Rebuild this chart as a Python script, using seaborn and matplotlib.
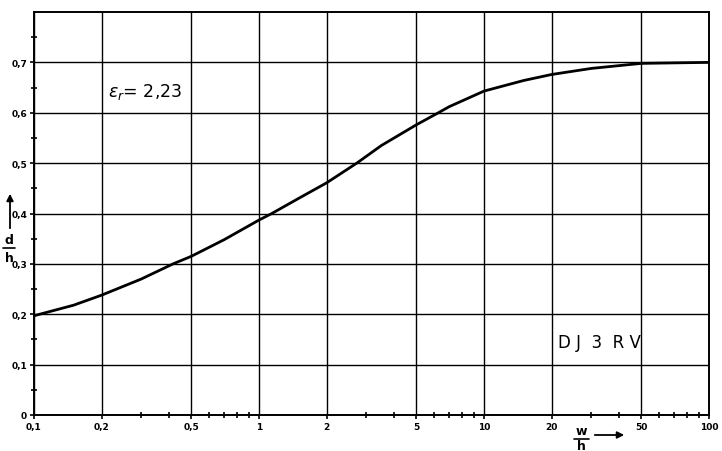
import numpy as np
import pandas as pd
import matplotlib
matplotlib.use("Agg")
import matplotlib.pyplot as plt
import seaborn as sns
from matplotlib.ticker import FixedLocator, NullFormatter

# Data
w_h = [0.1, 0.15, 0.2, 0.3, 0.415, 0.5, 0.7, 1.0, 1.14, 1.5, 2.0, 2.72, 3.5, 5.0,
       6.27, 7.0, 10.0, 15.0, 20.0, 30.0, 50.0, 70.0, 100.0]
d_h = [0.197, 0.218, 0.238, 0.270, 0.300, 0.315, 0.348, 0.387, 0.400, 0.430, 0.461,
       0.500, 0.535, 0.576, 0.600, 0.612, 0.643, 0.664, 0.676, 0.688, 0.698, 0.699, 0.700]

x_major = [0.1, 0.2, 0.5, 1, 2, 5, 10, 20, 50, 100]
x_major_labels = ["0,1", "0,2", "0,5", "1", "2", "5", "10", "20", "50", "100"]
x_minor = [0.3, 0.4, 0.6, 0.7, 0.8, 0.9, 3, 4, 6, 7, 8, 9, 30, 40, 60, 70, 80, 90]
y_major = [0, 0.1, 0.2, 0.3, 0.4, 0.5, 0.6, 0.7]
y_major_labels = ["0", "0,1", "0,2", "0,3", "0,4", "0,5", "0,6", "0,7"]
y_minor = [0.05, 0.15, 0.25, 0.35, 0.45, 0.55, 0.65, 0.75]

df = pd.DataFrame({"w/h": w_h, "d/h": d_h})

sns.set_style("white")
plt.rcParams['font.family'] = ['DejaVu Sans']
plt.rcParams['text.color'] = 'black'
plt.rcParams['xtick.color'] = 'black'
plt.rcParams['ytick.color'] = 'black'

fig = plt.figure(figsize=(7.22, 4.52), dpi=100)
ax = fig.add_axes([34/722, 36/452, 675/722, 403/452])

sns.lineplot(data=df, x="w/h", y="d/h", ax=ax, color="black", linewidth=2.0)

ax.set_xscale("log")
ax.set_xlim(0.1, 100)
ax.set_ylim(0, 0.8)

ax.xaxis.set_major_locator(FixedLocator(x_major))
ax.set_xticklabels(x_major_labels)
ax.xaxis.set_minor_locator(FixedLocator(x_minor))
ax.xaxis.set_minor_formatter(NullFormatter())
ax.set_yticks(y_major)
ax.set_yticklabels(y_major_labels)
ax.yaxis.set_minor_locator(FixedLocator(y_minor))

ax.grid(True, which="major", color="black", linewidth=1.0)
for s in ax.spines.values():
    s.set_color("black")
    s.set_linewidth(1.4)

ax.tick_params(axis="both", which="both", bottom=True, left=True, top=False, right=False)
ax.tick_params(axis="both", which="major", direction="out", length=3, width=1.2,
               labelsize=6.5, color="black", labelcolor="black", pad=2)
ax.tick_params(axis="both", which="minor", direction="inout", length=5, width=1.2, color="black")
for lab in ax.get_xticklabels() + ax.get_yticklabels():
    lab.set_fontweight("bold")

ax.set_xlabel("")
ax.set_ylabel("")

# Annotations
fig.text(108/722, 1 - 92/452, r"$\varepsilon_r$= 2,23", fontsize=12.5, va="center", ha="left", color="black")
fig.text(558/722, 1 - 343/452, "D J  3  R V", fontsize=12, va="center", ha="left", color="black")

# y-axis label d/h with arrow
fig.text(9/722, 1 - 240/452, "d", fontsize=9, fontweight="bold", ha="center", va="center")
fig.text(9/722, 1 - 258/452, "h", fontsize=9, fontweight="bold", ha="center", va="center")
fig.add_artist(plt.Line2D([3/722, 15/722], [1 - 249/452, 1 - 249/452], color="black", linewidth=1.2))
fig.add_artist(matplotlib.patches.FancyArrowPatch((10/722, 1 - 232/452), (10/722, 1 - 192/452),
               transform=fig.transFigure, arrowstyle="-|>", mutation_scale=10, color="black", linewidth=1.3))

# x-axis label w/h with arrow
fig.text(581/722, 1 - 432/452, "w", fontsize=9, fontweight="bold", ha="center", va="center")
fig.text(581/722, 1 - 447/452, "h", fontsize=9, fontweight="bold", ha="center", va="center")
fig.add_artist(plt.Line2D([574/722, 589/722], [1 - 440/452, 1 - 440/452], color="black", linewidth=1.2))
fig.add_artist(matplotlib.patches.FancyArrowPatch((592/722, 1 - 436/452), (627/722, 1 - 436/452),
               transform=fig.transFigure, arrowstyle="-|>", mutation_scale=10, color="black", linewidth=1.3))

fig.savefig("out.png", dpi=100, facecolor="white")
